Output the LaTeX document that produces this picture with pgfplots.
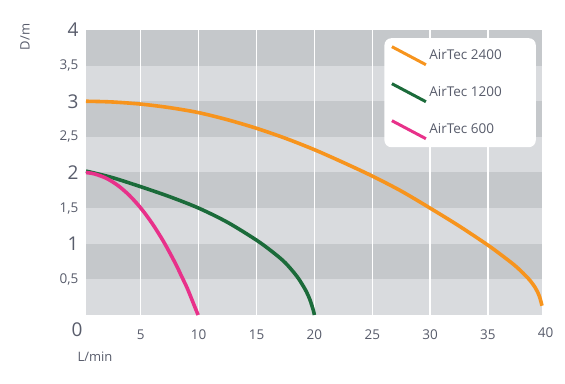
\documentclass[border=0pt]{standalone}
\usepackage{pgfplots}
\pgfplotsset{compat=1.18}
\usepackage{fontspec}
\setmainfont{Open Sans}
\definecolor{dband}{HTML}{C5C8CB}
\definecolor{lband}{HTML}{D9DBDE}
\definecolor{txt}{HTML}{585C6B}
\definecolor{orng}{HTML}{F7941D}
\definecolor{grn}{HTML}{1B6B3A}
\definecolor{pnk}{HTML}{E8318A}
\newcommand{\bigtick}{\fontsize{19}{19}\selectfont}
\begin{document}
\begin{tikzpicture}
\begin{axis}[
  name=ax,
  scale only axis, width=456pt, height=285pt,
  xmin=0.26, xmax=39.67, ymin=0, ymax=4,
  axis line style={draw=none}, tick style={draw=none},
  xtick={5,10,15,20,25,30,35},
  xticklabels={5,10,15,20,25,30,35},
  ytick={0.5,1,1.5,2,2.5,3,3.5,4},
  yticklabels={{0,5},{\bigtick 1},{1,5},{\bigtick 2},{2,5},{\bigtick 3},{3,5},{\bigtick 4}},
  tick label style={font=\fontsize{13.5}{13.5}\selectfont, text=txt},
  xticklabel style={yshift=-11pt},
  yticklabel style={xshift=-4pt},
  clip=false,
  legend style={at={([shift={(-6pt,-8pt)}]rel axis cs:1,1)}, anchor=north east, draw=none, fill=white,
    rounded corners=7pt, font=\fontsize{13.5}{13.5}\selectfont, text=txt,
    row sep=16pt, inner xsep=6pt, inner ysep=7pt},
  legend cell align=left,
  legend image code/.code={\draw[#1, line width=3pt] (0pt,9pt) -- (34pt,-9pt);},
]
% background bands
\fill[lband] (rel axis cs:0,0) rectangle (rel axis cs:1,0.125);
\fill[dband] (rel axis cs:0,0.125) rectangle (rel axis cs:1,0.25);
\fill[lband] (rel axis cs:0,0.25) rectangle (rel axis cs:1,0.375);
\fill[dband] (rel axis cs:0,0.375) rectangle (rel axis cs:1,0.5);
\fill[lband] (rel axis cs:0,0.5) rectangle (rel axis cs:1,0.625);
\fill[dband] (rel axis cs:0,0.625) rectangle (rel axis cs:1,0.75);
\fill[lband] (rel axis cs:0,0.75) rectangle (rel axis cs:1,0.875);
\fill[dband] (rel axis cs:0,0.875) rectangle (rel axis cs:1,1);
\foreach \xx in {5,10,15,20,25,30,35} {
  \edef\tmp{\noexpand\draw[white, line width=1.3pt] (axis cs:\xx,0) -- (axis cs:\xx,4);}\tmp
}
\addplot[orng, line width=3.6pt, smooth] coordinates {
 (0.26,3.0) (2.5,2.99) (5,2.96) (7.5,2.91) (10,2.84) (12.5,2.74) (15,2.62) (17.5,2.48) (20,2.32) (22.5,2.14)
 (25,1.95) (27.5,1.74) (30,1.5) (32.5,1.25) (35,0.98) (36.5,0.8) (37.5,0.67) (38.5,0.51) (39.1,0.38) (39.45,0.26) (39.67,0.13)};
\addlegendentry{AirTec 2400\rule{26pt}{0pt}}
\addplot[grn, line width=3.6pt, smooth] coordinates {
 (0.26,2.02) (2.5,1.93) (5,1.8) (7.5,1.66) (10,1.5) (12.5,1.3) (15,1.05) (16.5,0.87) (17.5,0.73)
 (18.5,0.54) (19.2,0.36) (19.6,0.22) (19.9,0.07) (20,0)};
\addlegendentry{AirTec 1200\rule{26pt}{0pt}}
\addplot[pnk, line width=3.6pt, smooth] coordinates {
 (0.26,2.0) (1,1.98) (2,1.92) (3,1.82) (4,1.68) (5,1.5) (6,1.28) (7,1.02) (8,0.72) (8.5,0.55)
 (9,0.38) (9.5,0.18) (9.95,0)};
\addlegendentry{AirTec 600\rule{26pt}{0pt}}
\end{axis}
\node[rotate=90, text=txt, font=\fontsize{13}{13}\selectfont] at ([shift={(-61pt,-7pt)}]ax.north west) {D/m};
\node[text=txt, font=\fontsize{13}{13}\selectfont] at ([shift={(9pt,-42pt)}]ax.south west) {L/min};
\node[text=txt, font=\bigtick] at ([shift={(-9pt,-15pt)}]ax.south west) {0};
\node[text=txt, font=\fontsize{13.5}{13.5}\selectfont] at ([shift={(3.5pt,-18pt)}]ax.south east) {40};
\path ([shift={(-86pt,-68pt)}]ax.south west) rectangle ([shift={(23pt,30pt)}]ax.north east);
\end{tikzpicture}
\end{document}
